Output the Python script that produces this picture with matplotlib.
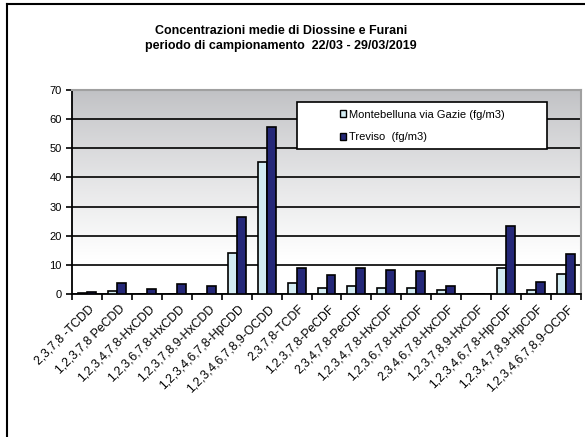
# grafico diossine e furani - medie del periodo

import numpy as np
import matplotlib
matplotlib.use("Agg")
import matplotlib.pyplot as plt
from matplotlib.patches import Rectangle, Patch
from matplotlib.lines import Line2D

plt.rcParams['font.family'] = ['Liberation Sans', 'DejaVu Sans']

congeneri = ["2,3,7,8 -TCDD", "1,2,3,7,8 PeCDD", "1,2,3,4,7,8-HxCDD",
             "1,2,3,6,7,8-HxCDD", "1,2,3,7,8,9-HxCDD", "1,2,3,4,6,7,8-HpCDD",
             "1,2,3,4,6,7,8,9-OCDD", "2,3,7,8-TCDF", "1,2,3,7,8-PeCDF",
             "2,3,4,7,8-PeCDF", "1,2,3,4,7,8-HxCDF", "1,2,3,6,7,8-HxCDF",
             "2,3,4,6,7,8-HxCDF", "1,2,3,7,8,9-HxCDF", "1,2,3,4,6,7,8-HpCDF",
             "1,2,3,4,7,8,9-HpCDF", "1,2,3,4,6,7,8,9-OCDF"]

montebelluna = [0.3, 1.1, 0, 0, 0, 14.2, 45.2, 3.9, 2.2, 2.8, 2.2, 2.2,
                1.4, 0, 8.8, 1.4, 6.7]
treviso = [0.6, 3.7, 1.6, 3.3, 2.6, 26.5, 57.4, 9.0, 6.4, 9.0, 8.3, 8.0,
           2.9, 0, 23.3, 4.0, 13.6]

lbl_mont = "Montebelluna via Gazie (fg/m3)"
lbl_trev = "Treviso  (fg/m3)"

c_light = "#d3ecf3"
c_dark = "#252878"

fig = plt.figure(figsize=(5.85, 4.37), dpi=100)
ax = fig.add_axes([72/585, 1 - 294/437, 509/585, 204/437])

x = np.arange(len(congeneri))
w = 0.3

# sfondo sfumato grigio (in alto) -> bianco (verso 10)
yy = np.linspace(70, 0, 300)
t = np.clip((70 - yy) / 58.0, 0, 1) ** 0.85
top = np.array([0.75, 0.753, 0.765])
img = (top[None, :] * (1 - t[:, None]) + t[:, None])[:, None, :]
ax.imshow(img, extent=[-0.5, len(congeneri) - 0.5, 0, 70], origin='upper',
          aspect='auto', zorder=0)

ax.bar(x - w/2, montebelluna, w, color=c_light, edgecolor='black', linewidth=1.2, zorder=3)
ax.bar(x + w/2, treviso, w, color=c_dark, edgecolor='black', linewidth=1.2, zorder=3)

ax.set_xlim(-0.5, len(congeneri) - 0.5)
ax.set_ylim(0, 70)
ax.set_yticks(range(0, 71, 10))
ax.yaxis.grid(True, color='black', linewidth=1.2, zorder=1)
ax.set_axisbelow(True)

ax.set_xticks(np.arange(len(congeneri) + 1) - 0.5)
ax.set_xticklabels([])
for i, name in enumerate(congeneri):
    ax.text(i + 0.05, -3, name, rotation=45, rotation_mode='anchor',
            ha='right', va='top', fontsize=8.8)

ax.tick_params(axis='both', direction='out', length=4, width=1.2, labelsize=8)
for s in ['left', 'bottom']:
    ax.spines[s].set_color('black')
    ax.spines[s].set_linewidth(1.3)
for s in ['top', 'right']:
    ax.spines[s].set_color('#a0a0a0')
    ax.spines[s].set_linewidth(1.5)

# riquadro legenda
ax.add_patch(Rectangle((297/585, 1 - 149/437), 250/585, 47/437,
                       transform=fig.transFigure, facecolor='white',
                       edgecolor='black', linewidth=1.2, zorder=4))
handles = [Patch(facecolor=c_light, edgecolor='black', linewidth=1),
           Patch(facecolor=c_dark, edgecolor='black', linewidth=1)]
fig.legend(handles, [lbl_mont, lbl_trev], loc='center',
           bbox_to_anchor=(422/585, 1 - 126/437), frameon=False,
           fontsize=8, handlelength=0.6, handleheight=0.6,
           handletextpad=0.2, labelspacing=1.1)

fig.text(0.48, 1 - 38.5/437, "Concentrazioni medie di Diossine e Furani\nperiodo di campionamento  22/03 - 29/03/2019",
         ha='center', va='center', fontsize=9, fontweight='bold', linespacing=1.4)

# cornice esterna
fig.add_artist(Line2D([7/585, 7/585], [0, 1 - 4/437], transform=fig.transFigure,
                      color='black', linewidth=1.5))
fig.add_artist(Line2D([7/585, 1], [1 - 4/437, 1 - 4/437], transform=fig.transFigure,
                      color='black', linewidth=1.5))

fig.savefig("out.png", dpi=100)
